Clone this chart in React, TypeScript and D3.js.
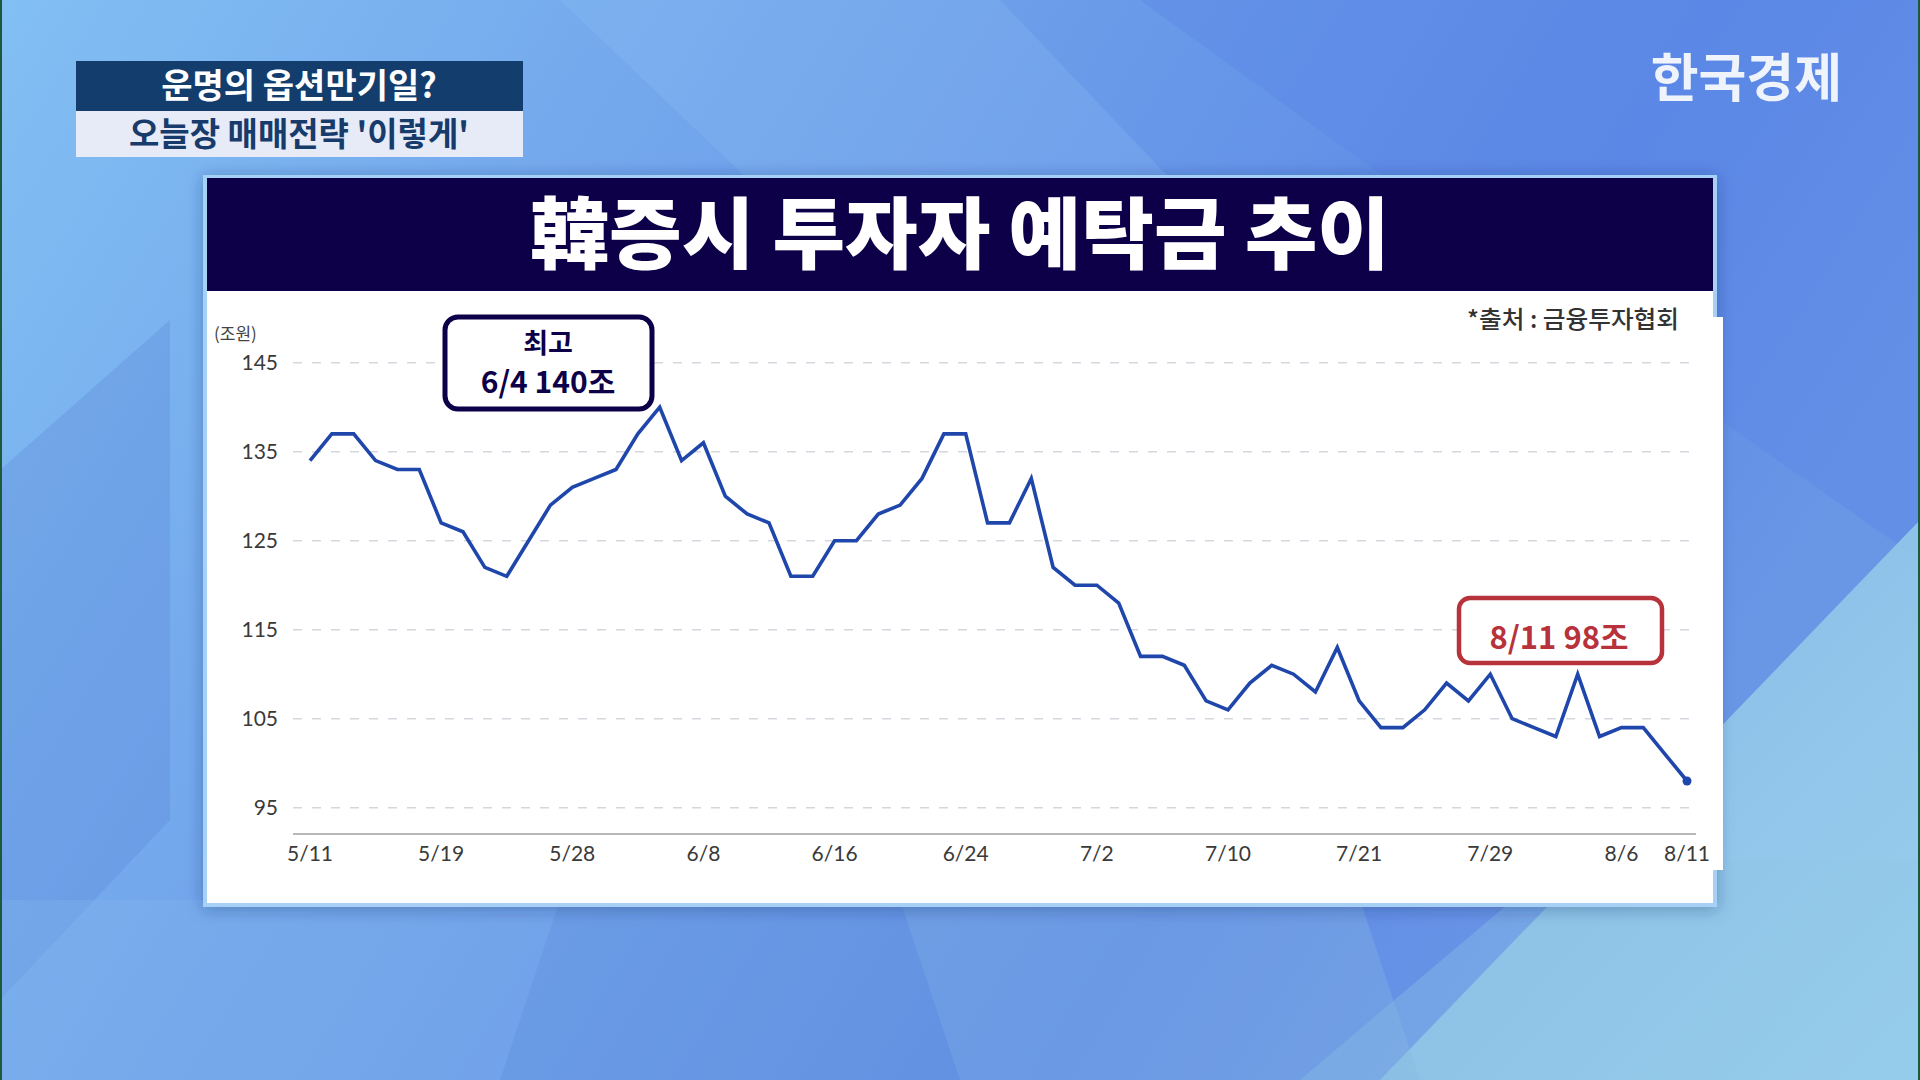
import React from 'react';
import * as d3 from 'd3';

const values = [134,137,137,134,133,133,127,126,122,121,125,129,131,132,133,137,140,134,136,130,128,127,121,121,125,125,128,129,132,137,137,127,127,132,122,120,120,118,112,112,111,107,106,109,111,110,108,113,107,104,104,106,109,107,110,105,104,103,110,103,104,104,101,98];
const tickIndex = [0,6,12,18,24,30,36,42,48,54,60,63];
const tickLabels = ['5/11','5/19','5/28','6/8','6/16','6/24','7/2','7/10','7/21','7/29','8/6','8/11'];
const yTicks = [95,105,115,125,135,145];
const title = '韓증시 투자자 예탁금 추이';
const headline1 = '운명의 옵션만기일?';
const headline2 = "오늘장 매매전략 '이렇게'";
const unitLabel = '(조원)';
const sourceLabel = '*출처 : 금융투자협회';
const peakLabel = ['최고', '6/4 140조'];
const lastLabel = '8/11 98조';
const logo = '한국경제';

const KR = '"Noto Sans CJK KR", "Noto Sans", sans-serif';
const NUM = 'Lato, "Noto Sans", sans-serif';

export default function App() {
  const x = d3.scaleLinear().domain([0, values.length - 1]).range([310, 1687]);
  const y = d3.scaleLinear().domain([95, 145]).range([807.7, 362.7]);
  const line = d3.line<number>().x((_, i) => x(i)).y((d) => y(d));
  const gridX0 = 293;
  const gridX1 = 1696;
  const axisY = 834;
  const lastI = values.length - 1;

  return (
    <svg
      width={1920}
      height={1080}
      viewBox="0 0 1920 1080"
      style={{ position: 'fixed', left: 0, top: 0, display: 'block' }}
    >
      <defs>
        <linearGradient id="bg" x1="0" y1="0" x2="1" y2="0.35">
          <stop offset="0" stopColor="#82bff3" />
          <stop offset="0.45" stopColor="#6d9fea" />
          <stop offset="0.8" stopColor="#5d89e6" />
          <stop offset="1" stopColor="#6a96e6" />
        </linearGradient>
        <linearGradient id="br" x1="0" y1="0" x2="1" y2="1">
          <stop offset="0" stopColor="#86b9e2" />
          <stop offset="1" stopColor="#a0d6f0" />
        </linearGradient>
        <filter id="shadow" x="-5%" y="-5%" width="110%" height="110%">
          <feDropShadow dx="0" dy="2" stdDeviation="8" floodColor="#1a2a60" floodOpacity="0.35" />
        </filter>
      </defs>

      {/* background */}
      <rect x={0} y={0} width={1920} height={1080} fill="url(#bg)" />
      <polygon points="0,470 170,320 170,820 0,1000" fill="#5a86d8" opacity={0.3} />
      <polygon points="560,0 1000,0 1400,420 1000,420" fill="#8fc0f4" opacity={0.25} />
      <polygon points="1140,0 1920,0 1920,560 1720,420" fill="#5a84e6" opacity={0.35} />
      <polygon points="1920,520 1920,1080 1380,1080" fill="url(#br)" opacity={0.9} />
      <polygon points="1300,1080 1560,860 1920,860 1920,1080" fill="#8ec6e6" opacity={0.35} />
      <polygon points="0,900 560,900 500,1080 0,1080" fill="#7fb2ea" opacity={0.4} />
      <polygon points="500,1080 560,900 900,900 960,1080" fill="#6e9fdc" opacity={0.35} />
      <polygon points="960,1080 900,900 1360,900 1420,1080" fill="#86b8e0" opacity={0.35} />
      <rect x={0} y={0} width={2} height={1080} fill="#1d5a3c" />
      <rect x={1918} y={0} width={2} height={1080} fill="#1d5a3c" />

      {/* headline box */}
      <rect x={76} y={61} width={447} height={50} fill="#123d6c" />
      <rect x={76} y={111} width={447} height={46} fill="#e7eaf7" />
      <text x={299} y={98} textAnchor="middle" fontFamily={KR} fontSize={34} fontWeight={700} fill="#ffffff">
        {headline1}
      </text>
      <text x={299} y={146} textAnchor="middle" fontFamily={KR} fontSize={33} fontWeight={700} fill="#173b6b">
        {headline2}
      </text>

      {/* logo */}
      <text x={1842} y={97} textAnchor="end" fontFamily={KR} fontSize={52} fontWeight={700} fill="#eef3fc">
        {logo}
      </text>

      {/* panel */}
      <g filter="url(#shadow)">
        <rect x={203} y={175} width={1514} height={732} fill="#a6d0f6" />
      </g>
      <rect x={207} y={178} width={1506} height={725} fill="#ffffff" />
      <rect x={1710} y={317} width={13} height={553} fill="#ffffff" />
      <rect x={207} y={178} width={1506} height={113} fill="#0d0049" />
      <text
        x={960}
        y={263}
        textAnchor="middle"
        fontFamily={KR}
        fontSize={78}
        fontWeight={900}
        fill="#ffffff"
        textLength={860}
        lengthAdjust="spacingAndGlyphs"
      >
        {title}
      </text>

      {/* source */}
      <text
        x={1679}
        y={328}
        textAnchor="end"
        fontFamily={KR}
        fontSize={24}
        fontWeight={500}
        fill="#333333"
        textLength={212}
        lengthAdjust="spacingAndGlyphs"
      >
        {sourceLabel}
      </text>

      {/* unit */}
      <text x={214} y={340} fontFamily={KR} fontSize={17} fill="#444444">
        {unitLabel}
      </text>

      {/* grid + y ticks */}
      {yTicks.map((t) => (
        <g key={t}>
          <line
            x1={gridX0}
            x2={gridX1}
            y1={y(t)}
            y2={y(t)}
            stroke="#d6d7de"
            strokeWidth={1.6}
            strokeDasharray="9 10"
          />
          <text
            x={278}
            y={y(t) + 7}
            textAnchor="end"
            fontFamily={NUM}
            fontSize={21}
            fill="#3a3a3a"
          >
            {t}
          </text>
        </g>
      ))}

      {/* x axis */}
      <line x1={gridX0} x2={gridX1} y1={axisY} y2={axisY} stroke="#a0a0a0" strokeWidth={1.5} />
      {tickIndex.map((ti, k) => (
        <text
          key={ti}
          x={x(ti)}
          y={861}
          textAnchor="middle"
          fontFamily={NUM}
          fontSize={21}
          fill="#3a3a3a"
        >
          {tickLabels[k]}
        </text>
      ))}

      {/* line */}
      <path d={line(values) || ''} fill="none" stroke="#1f46aa" strokeWidth={3.6} strokeLinejoin="miter" />
      <circle cx={x(lastI)} cy={y(values[lastI])} r={4.5} fill="#1f46aa" />

      {/* peak annotation */}
      <rect x={445} y={317} width={207} height={92} rx={13} fill="#ffffff" stroke="#0d0049" strokeWidth={5} />
      <text x={548} y={353} textAnchor="middle" fontFamily={KR} fontSize={27} fontWeight={700} fill="#0d0049">
        {peakLabel[0]}
      </text>
      <text x={548} y={393} textAnchor="middle" fontFamily={KR} fontSize={30} fontWeight={700} fill="#0d0049">
        {peakLabel[1]}
      </text>

      {/* last annotation */}
      <rect x={1459} y={598} width={203} height={65} rx={11} fill="#ffffff" stroke="#b8323c" strokeWidth={4.5} />
      <text x={1559} y={649} textAnchor="middle" fontFamily={KR} fontSize={31} fontWeight={700} fill="#b8323c">
        {lastLabel}
      </text>
    </svg>
  );
}
